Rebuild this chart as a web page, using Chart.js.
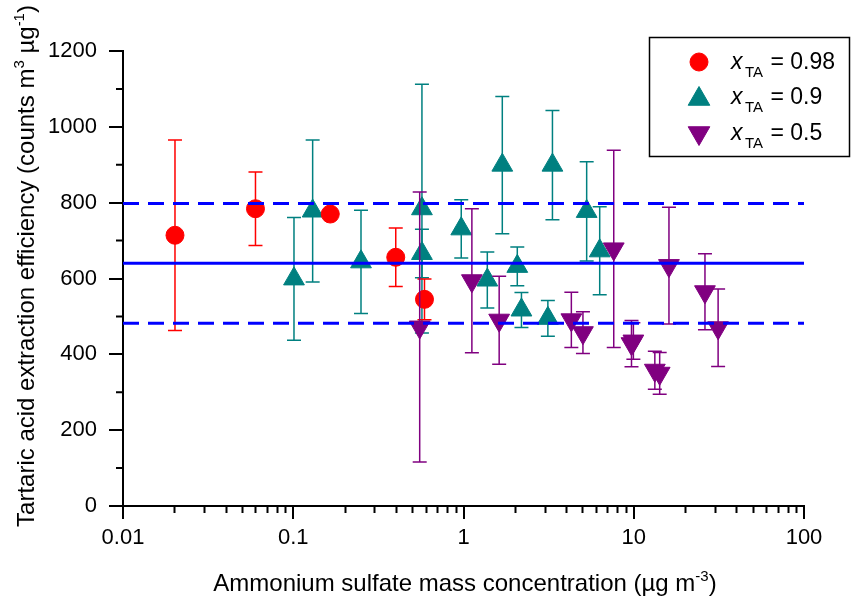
<!DOCTYPE html>
<html>
<head>
<meta charset="utf-8">
<script src="https://cdn.jsdelivr.net/npm/chart.js@4.4.0/dist/chart.umd.min.js"></script>
<style>
  html, body { margin: 0; padding: 0; background: #fff; }
  #wrap { width: 852px; height: 599px; }
</style>
</head>
<body>
<div id="wrap"><canvas id="chart"></canvas></div>
<script>
// x_TA = 0.98
const redX = [0.0202, 0.060, 0.165, 0.40, 0.59];
const redY = [714, 784, 770, 656, 545];
const redErr = [251, 97, 0, 77, 54];

// x_TA = 0.9
const tealX = [0.101, 0.13, 0.25, 0.57, 0.57, 0.97, 1.38, 1.69, 2.07, 2.19, 3.13, 3.33, 5.29, 6.31];
const tealY = [599, 778, 644, 784, 666, 731, 596, 899, 632, 517, 495, 899, 777, 673];
const tealErr = [162, 187, 136, 328, 64, 77, 74, 181, 51, 46, 47, 144, 131, 116];

// x_TA = 0.5
const purpleX = [0.553, 1.12, 1.62, 4.30, 5.03, 7.63, 9.7, 9.95, 13.3, 14.2, 16.1, 26.2, 31.3];
const purpleY = [472, 594, 490, 491, 457, 678, 428, 435, 358, 350, 634, 565, 470];
const purpleErr = [356, 190, 116, 73, 55, 260, 61, 48, 50, 55, 154, 100, 102];

const meanLine = 640;
const bandLines = [798, 482];
const xTicks = [0.01, 0.1, 1, 10, 100];
const legendLabels = ['0.98', '0.9', '0.5'];

const FONT = "'Liberation Sans', Arial, sans-serif";

const series = [
  { x: redX, y: redY, err: redErr, color: '#ff0000', style: 'circle', radius: 9, rotation: 0, order: 1 },
  { x: tealX, y: tealY, err: tealErr, color: '#008080', style: 'triangle', radius: 12, rotation: 0, order: 2 },
  { x: purpleX, y: purpleY, err: purpleErr, color: '#800080', style: 'triangle', radius: 12, rotation: 180, order: 0 }
];

const errorBars = {
  id: 'errorBars',
  beforeDatasetDraw(chart, args) {
    const s = series[args.index];
    const { ctx, scales: { x, y } } = chart;
    ctx.save();
    ctx.strokeStyle = s.color;
    ctx.lineWidth = 1.5;
    s.x.forEach((xv, i) => {
      const e = s.err[i];
      if (!e) return;
      const px = x.getPixelForValue(xv);
      const top = y.getPixelForValue(s.y[i] + e);
      const bot = y.getPixelForValue(s.y[i] - e);
      ctx.beginPath();
      ctx.moveTo(px, top); ctx.lineTo(px, bot);
      ctx.moveTo(px - 7, top); ctx.lineTo(px + 7, top);
      ctx.moveTo(px - 7, bot); ctx.lineTo(px + 7, bot);
      ctx.stroke();
    });
    ctx.restore();
  }
};

const refLines = {
  id: 'refLines',
  afterDatasetsDraw(chart) {
    const { ctx, chartArea: a, scales: { y } } = chart;
    ctx.save();
    ctx.strokeStyle = '#0000ff';
    ctx.lineWidth = 3;
    const py = y.getPixelForValue(meanLine);
    ctx.beginPath(); ctx.moveTo(a.left, py); ctx.lineTo(a.right, py); ctx.stroke();
    ctx.setLineDash([16, 9]);
    bandLines.forEach(v => {
      const p = y.getPixelForValue(v);
      ctx.beginPath(); ctx.moveTo(a.left, p); ctx.lineTo(a.right, p); ctx.stroke();
    });
    ctx.restore();
  }
};

// minor ticks, axis titles and legend
const decorations = {
  id: 'decorations',
  afterDraw(chart) {
    const { ctx, chartArea: a, scales: { x, y } } = chart;
    ctx.save();
    ctx.strokeStyle = '#000';
    ctx.lineWidth = 2;
    ctx.beginPath();
    for (let d = 0.01; d < 100; d *= 10) {
      for (let m = 2; m <= 9; m++) {
        const px = Math.round(x.getPixelForValue(m * d)) + 0.5;
        ctx.moveTo(px, a.bottom); ctx.lineTo(px, a.bottom + 7);
      }
    }
    for (let v = 100; v < 1200; v += 200) {
      const py = y.getPixelForValue(v);
      ctx.moveTo(a.left, py); ctx.lineTo(a.left - 7, py);
    }
    ctx.stroke();

    // axis titles with superscripts
    const drawRich = (parts, cx, cy, rotate) => {
      ctx.save();
      ctx.translate(cx, cy);
      if (rotate) ctx.rotate(-Math.PI / 2);
      ctx.fillStyle = '#000';
      ctx.textBaseline = 'alphabetic';
      let total = 0;
      parts.forEach(p => { ctx.font = (p.sup ? '15px ' : '24px ') + FONT; total += ctx.measureText(p.t).width; });
      let xx = -total / 2;
      parts.forEach(p => {
        ctx.font = (p.sup ? '15px ' : '24px ') + FONT;
        ctx.fillText(p.t, xx, p.sup ? -10 : 0);
        xx += ctx.measureText(p.t).width;
      });
      ctx.restore();
    };
    drawRich([
      { t: 'Ammonium sulfate mass concentration (\u00b5g m' },
      { t: '-3', sup: true },
      { t: ')' }
    ], 465, 591, false);
    drawRich([
      { t: 'Tartaric acid extraction efficiency (counts m' },
      { t: '3', sup: true },
      { t: ' \u00b5g' },
      { t: '-1', sup: true },
      { t: ')' }
    ], 34, 266, true);

    // legend
    ctx.lineWidth = 1.5;
    ctx.strokeStyle = '#000';
    ctx.strokeRect(649.5, 37.5, 200, 119);
    const markerY = [62, 99, 133];
    const baseY = [69, 104, 140];
    series.forEach((s, i) => {
      ctx.fillStyle = s.color;
      ctx.strokeStyle = s.color;
      ctx.lineWidth = 1;
      Chart.helpers.drawPoint(ctx, {
        pointStyle: s.style, radius: i === 0 ? 9 : 12.5, rotation: s.rotation, borderWidth: 1
      }, 699, markerY[i]);
      ctx.fillStyle = '#000';
      ctx.font = 'italic 23px ' + FONT;
      ctx.fillText('x', 731, baseY[i]);
      ctx.font = '15px ' + FONT;
      ctx.fillText('TA', 745, baseY[i] + 8);
      ctx.font = '23px ' + FONT;
      ctx.fillText(' = ' + legendLabels[i], 764, baseY[i]);
    });
    ctx.restore();
  }
};

new Chart(document.getElementById('chart'), {
  type: 'scatter',
  plugins: [errorBars, refLines, decorations],
  data: {
    datasets: series.map((s, i) => ({
      label: legendLabels[i],
      data: s.x.map((v, j) => ({ x: v, y: s.y[j] })),
      backgroundColor: s.color,
      borderColor: s.color,
      borderWidth: 1,
      pointStyle: s.style,
      pointRadius: s.radius,
      rotation: s.rotation,
      order: s.order
    }))
  },
  options: {
    responsive: true,
    maintainAspectRatio: false,
    animation: false,
    events: [],
    layout: {
      padding: { left: 0, right: 48, top: 51, bottom: 0 }
    },
    plugins: {
      legend: { display: false },
      tooltip: { enabled: false }
    },
    scales: {
      x: {
        type: 'logarithmic',
        min: 0.01,
        max: 100,
        afterBuildTicks: (axis) => { axis.ticks = xTicks.map(v => ({ value: v })); },
        afterFit: (axis) => { axis.height = 93; },
        border: { display: true, color: '#000', width: 2 },
        grid: { drawOnChartArea: false, color: '#000', lineWidth: 2, tickLength: 13 },
        ticks: {
          color: '#000',
          padding: 6,
          maxRotation: 0,
          autoSkip: false,
          font: { family: FONT, size: 22 },
          callback: (v) => String(v)
        }
      },
      y: {
        min: 0,
        max: 1200,
        afterFit: (axis) => { axis.width = 123; },
        border: { display: true, color: '#000', width: 2 },
        grid: { drawOnChartArea: false, color: '#000', lineWidth: 2, tickLength: 14 },
        ticks: {
          stepSize: 200,
          color: '#000',
          padding: 12,
          font: { family: FONT, size: 22 },
          callback: (v) => String(v)
        }
      }
    }
  }
});
</script>
</body>
</html>
